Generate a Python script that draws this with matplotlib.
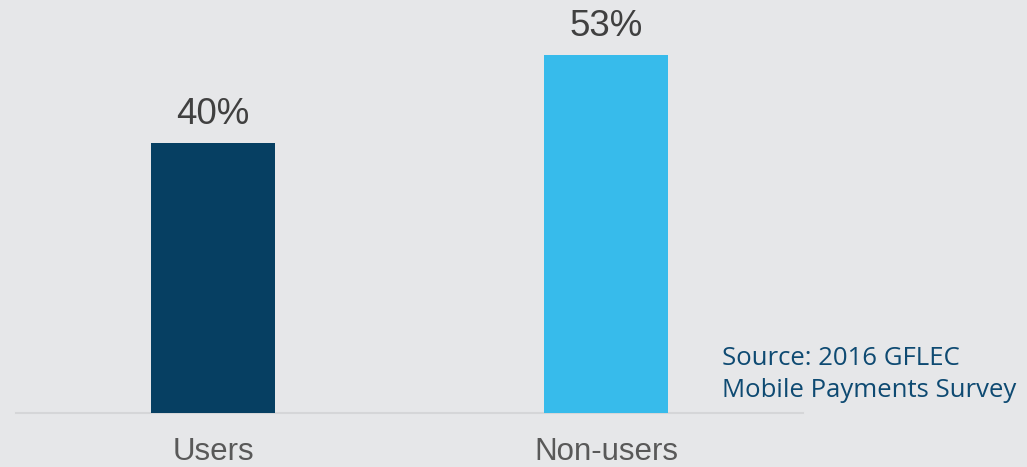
import matplotlib.pyplot as plt

categories = ['Users', 'Non-users']
values = [40, 53]
bar_colors = ['#063f62', '#37bbeb']
source_lines = ['Source: 2016 GFLEC', 'Mobile Payments Survey']

bg = '#e6e7e9'
fig = plt.figure(figsize=(10.27, 4.67), dpi=100, facecolor=bg)
ax = fig.add_axes([0, 54 / 467, 1, 413 / 467])
ax.set_facecolor(bg)

x = list(range(len(categories)))
bars = ax.bar(x, values, width=0.316, color=bar_colors)

# map data to pixel layout of the reference
ax.set_xlim(-213 / 393, (1027 - 213) / 393)
ax.set_ylim(0, 413 / 6.75)

for rect, v in zip(bars, values):
    ax.annotate(f'{v}%', xy=(rect.get_x() + rect.get_width() / 2, v),
                xytext=(0, 13.5), textcoords='offset points',
                ha='center', va='baseline', fontsize=26.5,
                family='Liberation Sans', color='#404040')

ax.set_xticks(x)
ax.set_xticklabels(categories, fontsize=22.5, family='Liberation Sans', color='#595959')
ax.tick_params(axis='x', length=0, pad=17)
ax.set_yticks([])

for s in ['top', 'left', 'right', 'bottom']:
    ax.spines[s].set_visible(False)
ax.plot([16 / 1027, 803 / 1027], [0, 0], transform=ax.transAxes,
        color='#d5d6d8', lw=1.5, clip_on=False, zorder=0)

fig.text(722 / 1027, 1 - 365 / 467, source_lines[0], fontsize=18.5,
         family='Open Sans', color='#0e4a72', va='baseline', ha='left')
fig.text(722 / 1027, 1 - 397 / 467, source_lines[1], fontsize=18.5,
         family='Open Sans', color='#0e4a72', va='baseline', ha='left')

fig.savefig('out.png', dpi=100, facecolor=bg)
